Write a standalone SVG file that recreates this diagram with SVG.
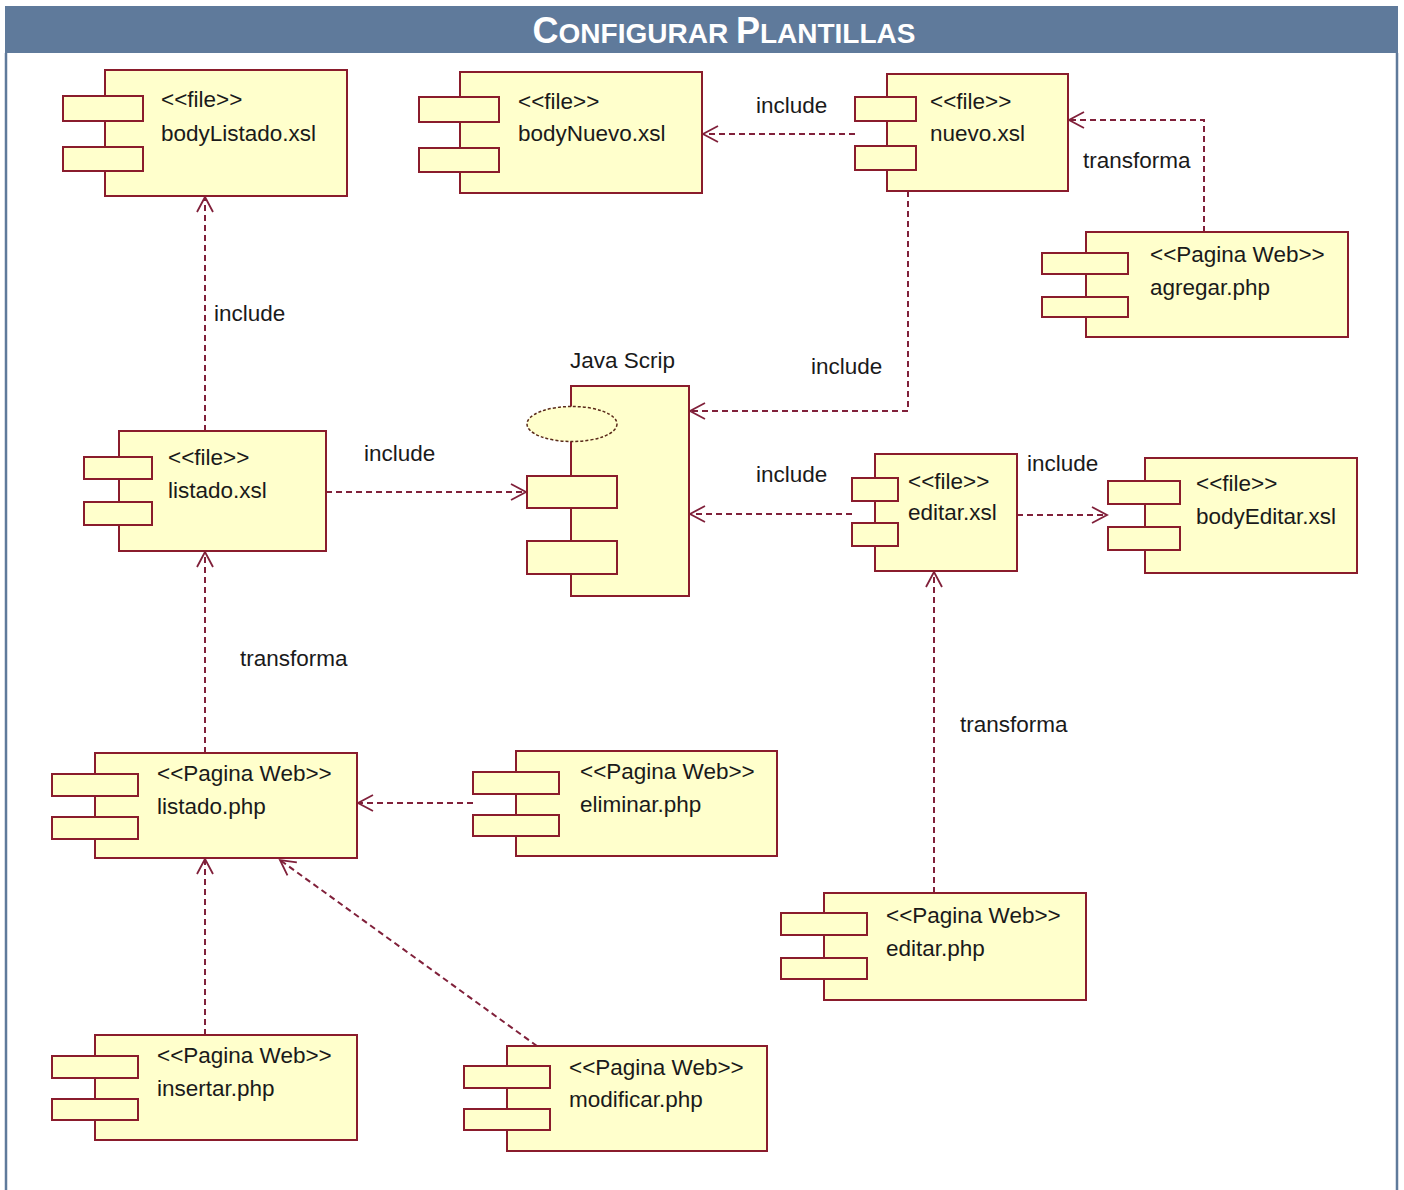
<svg xmlns="http://www.w3.org/2000/svg" width="1404" height="1190" viewBox="0 0 1404 1190">
<style>
.main{fill:#ffffcc;stroke:#8a1c2c;stroke-width:2}
.port{fill:#ffffcc;stroke:#8a1c2c;stroke-width:2}
.t{font-family:"Liberation Sans",Arial,sans-serif;font-size:22.5px;fill:#1a1a1a}
.dep{fill:none;stroke:#80203a;stroke-width:2;stroke-dasharray:6 4;marker-end:url(#arr)}
.title{font-family:"Liberation Sans",Arial,sans-serif;font-weight:bold;fill:#ffffff}
</style>
<defs>
<marker id="arr" markerUnits="userSpaceOnUse" markerWidth="20" markerHeight="20" viewBox="-16 -10 20 20" refX="0" refY="0" orient="auto">
<path d="M-15,-8 L0,0 L-15,8" fill="none" stroke="#80203a" stroke-width="1.8"/>
</marker>
</defs>
<rect x="0" y="0" width="1404" height="1190" fill="#ffffff"/>
<g id="frame">
<rect x="5" y="6" width="1393" height="47" fill="#5f7a9b"/>
<line x1="6" y1="53" x2="6" y2="1190" stroke="#5f7a9b" stroke-width="2.5"/>
<line x1="1397" y1="53" x2="1397" y2="1190" stroke="#5f7a9b" stroke-width="2.5"/>
<text class="title" x="724" y="43" text-anchor="middle"><tspan font-size="36">C</tspan><tspan font-size="28">ONFIGURAR </tspan><tspan font-size="36">P</tspan><tspan font-size="28">LANTILLAS</tspan></text>
</g>
<g id="connectors">
<path class="dep" d="M205,431 L205,197"/>
<path class="dep" d="M855,134 L703,134"/>
<path class="dep" d="M1204,232 L1204,120 L1069,120"/>
<path class="dep" d="M908,191 L908,411 L690,411"/>
<path class="dep" d="M326,492 L526,492"/>
<path class="dep" d="M852,514 L690,514"/>
<path class="dep" d="M1017,515 L1107,515"/>
<path class="dep" d="M934,893 L934,572"/>
<path class="dep" d="M205,753 L205,552"/>
<path class="dep" d="M473,803 L358,803"/>
<path class="dep" d="M205,1035 L205,859"/>
<path class="dep" d="M537,1046 L280,860"/>
<text class="t" x="214" y="321">include</text>
<text class="t" x="756" y="113">include</text>
<text class="t" x="1083" y="168">transforma</text>
<text class="t" x="811" y="374">include</text>
<text class="t" x="364" y="461">include</text>
<text class="t" x="756" y="482">include</text>
<text class="t" x="1027" y="471">include</text>
<text class="t" x="960" y="732">transforma</text>
<text class="t" x="240" y="666">transforma</text>
</g>
<g id="bodyListado">
<rect class="main" x="105" y="70" width="242" height="126"/>
<rect class="port" x="63" y="96" width="80" height="25"/>
<rect class="port" x="63" y="147" width="80" height="24"/>
<text class="t" x="161" y="107">&lt;&lt;file&gt;&gt;</text>
<text class="t" x="161" y="141">bodyListado.xsl</text>
</g>
<g id="bodyNuevo">
<rect class="main" x="460" y="72" width="242" height="121"/>
<rect class="port" x="419" y="97" width="80" height="25"/>
<rect class="port" x="419" y="148" width="80" height="24"/>
<text class="t" x="518" y="109">&lt;&lt;file&gt;&gt;</text>
<text class="t" x="518" y="141">bodyNuevo.xsl</text>
</g>
<g id="nuevo">
<rect class="main" x="887" y="74" width="181" height="117"/>
<rect class="port" x="855" y="97" width="61" height="24"/>
<rect class="port" x="855" y="146" width="61" height="24"/>
<text class="t" x="930" y="109">&lt;&lt;file&gt;&gt;</text>
<text class="t" x="930" y="141">nuevo.xsl</text>
</g>
<g id="agregar">
<rect class="main" x="1086" y="232" width="262" height="105"/>
<rect class="port" x="1042" y="253" width="86" height="21"/>
<rect class="port" x="1042" y="297" width="86" height="20"/>
<text class="t" x="1150" y="262">&lt;&lt;Pagina Web&gt;&gt;</text>
<text class="t" x="1150" y="295">agregar.php</text>
</g>
<g id="javascrip">
<text class="t" x="570" y="368">Java Scrip</text>
<rect class="main" x="571" y="386" width="118" height="210"/>
<ellipse cx="572" cy="424" rx="45" ry="17.5" fill="#ffffcc" stroke="#5a2a1a" stroke-width="1.5" stroke-dasharray="3 2"/>
<rect class="port" x="527" y="476" width="90" height="32"/>
<rect class="port" x="527" y="541" width="90" height="33"/>
</g>
<g id="listadoXsl">
<rect class="main" x="119" y="431" width="207" height="120"/>
<rect class="port" x="84" y="457" width="68" height="22"/>
<rect class="port" x="84" y="502" width="68" height="23"/>
<text class="t" x="168" y="465">&lt;&lt;file&gt;&gt;</text>
<text class="t" x="168" y="498">listado.xsl</text>
</g>
<g id="editarXsl">
<rect class="main" x="875" y="454" width="142" height="117"/>
<rect class="port" x="852" y="478" width="46" height="23"/>
<rect class="port" x="852" y="523" width="46" height="23"/>
<text class="t" x="908" y="489">&lt;&lt;file&gt;&gt;</text>
<text class="t" x="908" y="520">editar.xsl</text>
</g>
<g id="bodyEditar">
<rect class="main" x="1145" y="458" width="212" height="115"/>
<rect class="port" x="1108" y="481" width="72" height="23"/>
<rect class="port" x="1108" y="527" width="72" height="23"/>
<text class="t" x="1196" y="491">&lt;&lt;file&gt;&gt;</text>
<text class="t" x="1196" y="524">bodyEditar.xsl</text>
</g>
<g id="listadoPhp">
<rect class="main" x="95" y="753" width="262" height="105"/>
<rect class="port" x="52" y="774" width="86" height="22"/>
<rect class="port" x="52" y="817" width="86" height="22"/>
<text class="t" x="157" y="781">&lt;&lt;Pagina Web&gt;&gt;</text>
<text class="t" x="157" y="814">listado.php</text>
</g>
<g id="eliminarPhp">
<rect class="main" x="516" y="751" width="261" height="105"/>
<rect class="port" x="473" y="772" width="86" height="22"/>
<rect class="port" x="473" y="815" width="86" height="21"/>
<text class="t" x="580" y="779">&lt;&lt;Pagina Web&gt;&gt;</text>
<text class="t" x="580" y="812">eliminar.php</text>
</g>
<g id="editarPhp">
<rect class="main" x="824" y="893" width="262" height="107"/>
<rect class="port" x="781" y="913" width="86" height="22"/>
<rect class="port" x="781" y="958" width="86" height="21"/>
<text class="t" x="886" y="923">&lt;&lt;Pagina Web&gt;&gt;</text>
<text class="t" x="886" y="956">editar.php</text>
</g>
<g id="insertarPhp">
<rect class="main" x="95" y="1035" width="262" height="105"/>
<rect class="port" x="52" y="1056" width="86" height="22"/>
<rect class="port" x="52" y="1099" width="86" height="21"/>
<text class="t" x="157" y="1063">&lt;&lt;Pagina Web&gt;&gt;</text>
<text class="t" x="157" y="1096">insertar.php</text>
</g>
<g id="modificarPhp">
<rect class="main" x="507" y="1046" width="260" height="105"/>
<rect class="port" x="464" y="1066" width="86" height="22"/>
<rect class="port" x="464" y="1109" width="86" height="21"/>
<text class="t" x="569" y="1075">&lt;&lt;Pagina Web&gt;&gt;</text>
<text class="t" x="569" y="1107">modificar.php</text>
</g>
</svg>
